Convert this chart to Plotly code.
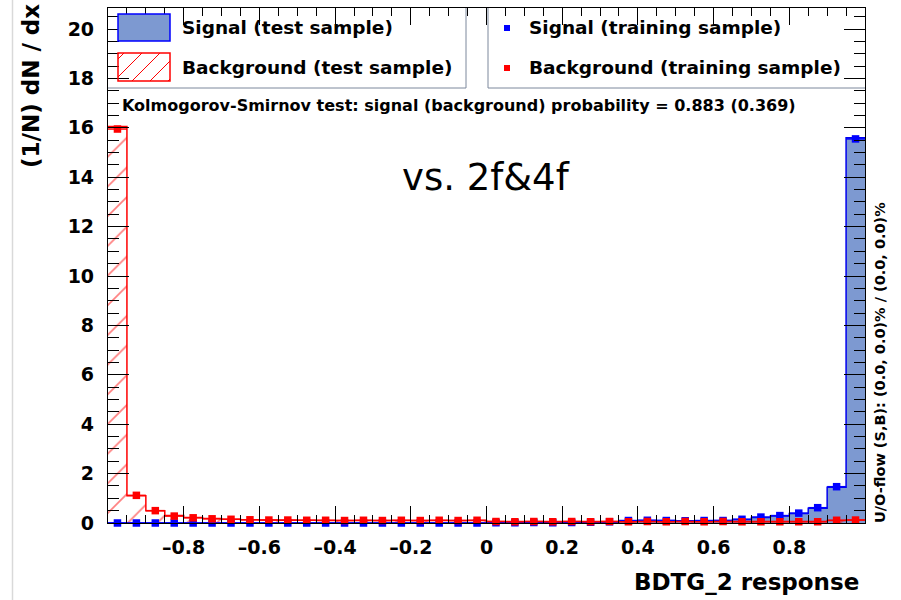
import numpy as np
import plotly.graph_objects as go

# ---------------- data ----------------
bin_low = -1.0
bin_width = 0.05
n_bins = 40

# Signal (test sample) histogram, normalised (1/N) dN/dx
sig_test = [0.0, 0.0, 0.0, 0.0, 0.0, 0.0, 0.0, 0.0, 0.0, 0.0,
            0.0, 0.0, 0.0, 0.0, 0.0, 0.0, 0.0, 0.0, 0.0, 0.0,
            0.01, 0.01, 0.01, 0.02, 0.02, 0.02, 0.04, 0.09, 0.1, 0.1,
            0.09, 0.09, 0.1, 0.14, 0.22, 0.28, 0.38, 0.6, 1.45, 15.6]
# Signal (training sample) points
sig_train = [0.0, 0.0, 0.0, 0.0, 0.0, 0.0, 0.0, 0.0, 0.0, 0.0,
             0.0, 0.0, 0.0, 0.0, 0.0, 0.0, 0.0, 0.0, 0.0, 0.0,
             0.01, 0.01, 0.02, 0.01, 0.02, 0.03, 0.05, 0.1, 0.11, 0.1,
             0.09, 0.1, 0.1, 0.15, 0.24, 0.3, 0.4, 0.62, 1.47, 15.55]
# Background (test sample) histogram
bkg_test = [16.05, 1.1, 0.5, 0.3, 0.22, 0.18, 0.15, 0.13, 0.12, 0.11,
            0.11, 0.1, 0.1, 0.1, 0.1, 0.1, 0.1, 0.1, 0.1, 0.1,
            0.06, 0.06, 0.06, 0.06, 0.06, 0.06, 0.06, 0.06, 0.06, 0.06,
            0.06, 0.06, 0.06, 0.06, 0.06, 0.06, 0.06, 0.06, 0.1, 0.12]
# Background (training sample) points
bkg_train = [15.95, 1.12, 0.5, 0.28, 0.21, 0.17, 0.15, 0.13, 0.12, 0.12,
             0.11, 0.11, 0.1, 0.11, 0.1, 0.11, 0.1, 0.11, 0.1, 0.11,
             0.06, 0.05, 0.06, 0.05, 0.06, 0.05, 0.06, 0.05, 0.06, 0.05,
             0.06, 0.05, 0.06, 0.05, 0.05, 0.05, 0.05, 0.05, 0.11, 0.12]

x_tick_vals = [-0.8, -0.6, -0.4, -0.2, 0, 0.2, 0.4, 0.6, 0.8]
x_tick_text = ["\u20130.8", "\u20130.6", "\u20130.4", "\u20130.2", "0", "0.2", "0.4", "0.6", "0.8"]
y_tick_vals = [0, 2, 4, 6, 8, 10, 12, 14, 16, 18, 20]

ks_text = "Kolmogorov-Smirnov test: signal (background) probability = 0.883 (0.369)"
uo_text = "U/O-flow (S,B): (0.0, 0.0)% / (0.0, 0.0)%"

# ---------------- geometry ----------------
W, H = 901, 600
ML, MR, MT, MB = 108, 36, 8, 77
PW, PH = W - ML - MR, H - MT - MB


def px(x):
    return (x - ML) / PW


def py(y):
    return (H - MB - y) / PH


edges = bin_low + bin_width * np.arange(n_bins + 1)
centers = edges[:-1] + bin_width / 2

SIG_FILL = "#7d99d1"
SIG_LINE = "#0000ee"
SIG_MARK = "#0000ff"
BKG = "#ff0000"
FONT = "DejaVu Sans"

fig = go.Figure()

# signal test histogram (filled step)
fig.add_trace(go.Scatter(
    x=edges, y=list(sig_test) + [sig_test[-1]], mode="lines",
    line=dict(shape="hv", color=SIG_LINE, width=1.5),
    fill="tozeroy", fillcolor=SIG_FILL, showlegend=False, hoverinfo="skip"))

# background test histogram (hatched step)
fig.add_trace(go.Scatter(
    x=edges, y=list(bkg_test) + [bkg_test[-1]], mode="lines",
    line=dict(shape="hv", color=BKG, width=1.5),
    fill="tozeroy", fillcolor="rgba(0,0,0,0)",
    fillpattern=dict(shape="/", fgcolor=BKG, bgcolor="rgba(0,0,0,0)",
                     size=21, solidity=0.08),
    showlegend=False, hoverinfo="skip"))

# training points
for vals, col in ((sig_train, SIG_MARK), (bkg_train, BKG)):
    fig.add_trace(go.Scatter(
        x=centers, y=vals, mode="markers",
        marker=dict(symbol="square", size=7.5, color=col),
        error_x=dict(type="constant", value=bin_width / 2, color=col,
                     thickness=1.5, width=0),
        cliponaxis=False, showlegend=False))

shapes = []
# page edge line on the left (from the original slide)
shapes.append(dict(type="line", xref="paper", yref="paper",
                   x0=px(12.5), x1=px(12.5), y0=py(600), y1=py(0),
                   line=dict(color="#d9d9d9", width=1.5)))

# legend boxes
BOX = "#7d889c"
shapes.append(dict(type="line", xref="paper", yref="paper",
                   x0=px(ML), x1=px(466), y0=py(88), y1=py(88), line=dict(color=BOX, width=1)))
shapes.append(dict(type="line", xref="paper", yref="paper",
                   x0=px(466), x1=px(466), y0=py(88), y1=py(MT), line=dict(color=BOX, width=1)))
shapes.append(dict(type="line", xref="paper", yref="paper",
                   x0=px(488), x1=px(W - MR), y0=py(88), y1=py(88), line=dict(color=BOX, width=1)))
shapes.append(dict(type="line", xref="paper", yref="paper",
                   x0=px(488), x1=px(488), y0=py(88), y1=py(MT), line=dict(color=BOX, width=1)))

# legend samples
shapes.append(dict(type="rect", xref="paper", yref="paper",
                   x0=px(118), x1=px(170), y0=py(41), y1=py(14),
                   fillcolor=SIG_FILL, line=dict(color=SIG_MARK, width=1.5)))
shapes.append(dict(type="rect", xref="paper", yref="paper",
                   x0=px(118), x1=px(170), y0=py(81), y1=py(53),
                   fillcolor="rgba(0,0,0,0)", line=dict(color=BKG, width=1.5)))
# hatch inside background sample
hx0, hx1, hy0, hy1 = 118, 170, 53, 81
hh = hy1 - hy0
for c in np.arange(-hh + 6, hx1 - hx0, 18):
    t0 = max(0, -c)
    t1 = min(hx1 - hx0 - c, hh)
    if t1 <= t0:
        continue
    xa, ya = hx0 + c + t0, hy1 - t0
    xb, yb = hx0 + c + t1, hy1 - t1
    shapes.append(dict(type="line", xref="paper", yref="paper",
                       x0=px(xa), y0=py(ya), x1=px(xb), y1=py(yb),
                       line=dict(color=BKG, width=1)))
# marker samples
for yc, col in ((28, SIG_MARK), (68, BKG)):
    shapes.append(dict(type="rect", xref="paper", yref="paper",
                       x0=px(504), x1=px(510), y0=py(yc + 3), y1=py(yc - 3),
                       fillcolor=col, line=dict(width=0)))

bold = dict(family=FONT, color="black", weight="bold")
annotations = [
    dict(text="Signal (test sample)", x=px(180), y=py(28), xanchor="left", yanchor="middle",
         font=dict(size=18.5, **bold)),
    dict(text="Background (test sample)", x=px(180), y=py(68), xanchor="left", yanchor="middle",
         font=dict(size=18.5, **bold)),
    dict(text="Signal (training sample)", x=px(527), y=py(28), xanchor="left", yanchor="middle",
         font=dict(size=18.5, **bold)),
    dict(text="Background (training sample)", x=px(527), y=py(68), xanchor="left", yanchor="middle",
         font=dict(size=18.5, **bold)),
    dict(text=ks_text, x=px(120), y=py(106), xanchor="left", yanchor="middle",
         font=dict(size=16, **bold)),
    dict(text="vs. 2f&4f", x=px(485.5), y=py(178), xanchor="center", yanchor="middle",
         font=dict(size=37, family=FONT, color="black")),
    dict(text=uo_text, x=px(880), y=py(362), xanchor="center", yanchor="middle", textangle=-90,
         font=dict(size=14.5, **bold)),
    dict(text="BDTG_2 response", x=px(861), y=py(582), xanchor="right", yanchor="middle",
         font=dict(size=23, **bold)),
    dict(text="(1/N) dN / dx", x=px(31), y=py(2), xanchor="center", yanchor="top", textangle=-90,
         font=dict(size=23, **bold)),
]
for a in annotations:
    a.update(xref="paper", yref="paper", showarrow=False)

fig.update_layout(
    width=W, height=H, margin=dict(l=ML, r=MR, t=MT, b=MB, pad=0),
    paper_bgcolor="white", plot_bgcolor="white",
    shapes=shapes, annotations=annotations, showlegend=False,
    xaxis=dict(range=[-1, 1], tickmode="array", tickvals=x_tick_vals, ticktext=x_tick_text,
               ticks="inside", ticklen=17, tickwidth=1, tickcolor="black",
               minor=dict(ticks="inside", ticklen=8, tickwidth=1, tickcolor="black",
                          tick0=-1, dtick=0.05, showgrid=False),
               showline=True, linecolor="black", linewidth=1.2, mirror="ticks",
               showgrid=False, zeroline=False, ticklabelstandoff=7,
               tickfont=dict(size=19, **bold)),
    yaxis=dict(range=[0, 20.85], tickmode="array", tickvals=y_tick_vals,
               ticks="inside", ticklen=21, tickwidth=1, tickcolor="black",
               minor=dict(ticks="inside", ticklen=11, tickwidth=1, tickcolor="black",
                          tick0=0, dtick=0.5, showgrid=False),
               showline=True, linecolor="black", linewidth=1.2, mirror="ticks",
               showgrid=False, zeroline=False, ticklabelstandoff=9,
               tickfont=dict(size=19, **bold)),
)

fig.write_html("out.html")
